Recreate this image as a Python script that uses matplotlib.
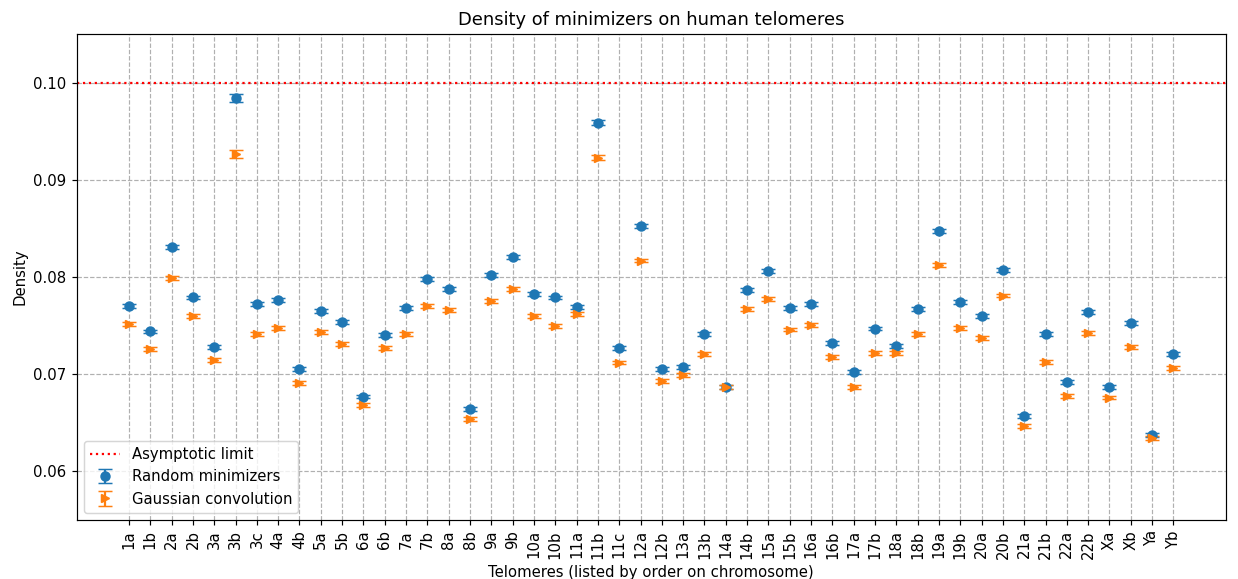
import matplotlib
matplotlib.use("Agg")
import matplotlib.pyplot as plt
import numpy as np

telomeres = ["1a","1b","2a","2b","3a","3b","3c","4a","4b","5a","5b","6a","6b","7a","7b","8a","8b",
             "9a","9b","10a","10b","11a","11b","11c","12a","12b","13a","13b","14a","14b","15a","15b",
             "16a","16b","17a","17b","18a","18b","19a","19b","20a","20b","21a","21b","22a","22b",
             "Xa","Xb","Ya","Yb"]

random_density = [0.0770,0.0744,0.0831,0.0779,0.0728,0.0984,0.0772,0.0776,0.0705,0.0765,0.0754,0.0677,
                  0.0740,0.0768,0.0798,0.0788,0.0664,0.0802,0.0821,0.0783,0.0779,0.0769,0.0959,0.0727,
                  0.0853,0.0705,0.0707,0.0741,0.0687,0.0787,0.0806,0.0768,0.0772,0.0732,0.0702,0.0747,
                  0.0729,0.0767,0.0847,0.0774,0.0760,0.0807,0.0657,0.0741,0.0692,0.0764,0.0687,0.0753,
                  0.0637,0.0721]
random_err = [0.0002]*len(telomeres)
random_err[5] = 0.0004
random_err[22] = 0.0003

gauss_density = [0.0752,0.0726,0.0799,0.0760,0.0715,0.0927,0.0741,0.0748,0.0691,0.0743,0.0731,0.0668,
                 0.0727,0.0741,0.0770,0.0766,0.0654,0.0775,0.0788,0.0760,0.0750,0.0762,0.0923,0.0712,
                 0.0817,0.0693,0.0699,0.0721,0.0687,0.0767,0.0777,0.0746,0.0751,0.0718,0.0687,0.0722,
                 0.0722,0.0741,0.0812,0.0748,0.0737,0.0781,0.0647,0.0713,0.0678,0.0742,0.0676,0.0728,
                 0.0634,0.0706]
gauss_err = [0.0002]*len(telomeres)
gauss_err[5] = 0.0004
gauss_err[22] = 0.0003

asymptotic_limit = 0.1

DPI = 107
fig = plt.figure(figsize=(1238 / DPI, 579 / DPI), dpi=DPI)
ax = fig.add_axes([0.062, 0.102, 0.928, 0.839])

x = np.arange(len(telomeres))
ax.axhline(asymptotic_limit, color="red", linestyle=":", linewidth=1.5, label="Asymptotic limit")
ax.errorbar(x, random_density, yerr=random_err, fmt="o", capsize=5, label="Random minimizers")
ax.errorbar(x, gauss_density, yerr=gauss_err, fmt=">", capsize=5, label="Gaussian convolution")

ax.set_xticks(x)
ax.set_xticklabels(telomeres, rotation=90)
ax.set_ylim(0.055, 0.105)
ax.set_yticks([0.06, 0.07, 0.08, 0.09, 0.10])
ax.grid(True, linestyle="--", color="#b0b0b0", linewidth=0.8)
ax.set_title("Density of minimizers on human telomeres")
ax.set_xlabel("Telomeres (listed by order on chromosome)")
ax.set_ylabel("Density")
ax.legend(loc="lower left")

fig.savefig("out.png", dpi=DPI)
